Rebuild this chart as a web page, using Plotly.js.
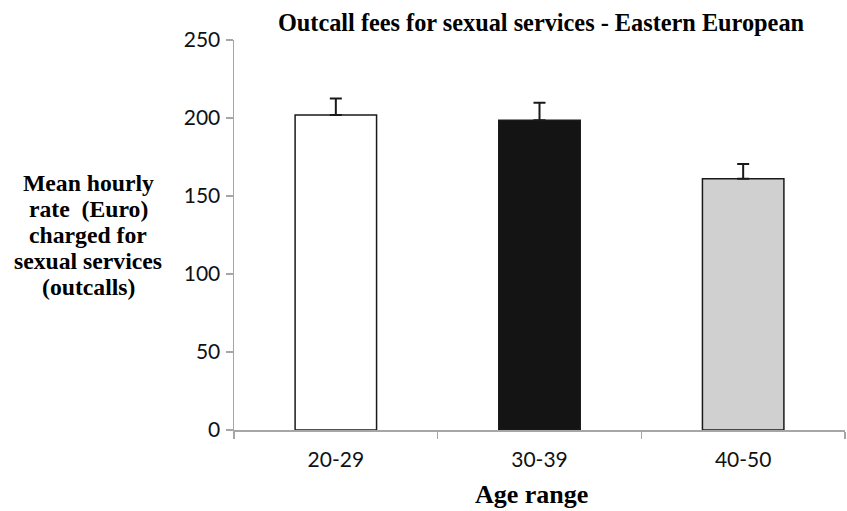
<!DOCTYPE html>
<html><head><meta charset="utf-8">
<script src="https://cdn.plot.ly/plotly-3.0.1.min.js"></script>
<style>body{margin:0;background:#fff}#c{width:847px;height:511px}</style>
</head><body><div id="c"></div>
<script>
const categories = ["20-29", "30-39", "40-50"];
const meanRates = [202, 198.5, 161];
const errorUp = [10.5, 11.3, 9.5];
const barColors = ["#ffffff", "#141414", "#d0d0d0"];
const yTicks = [0, 50, 100, 150, 200, 250];
const yTitleLines = ["Mean hourly", "rate  (Euro)", "charged for", "sexual services", "(outcalls)"];

const trace = {
  type: "bar",
  x: categories,
  y: meanRates,
  marker: {color: barColors, line: {color: "#1a1a1a", width: 1.5}},
  error_y: {type: "data", symmetric: false, array: errorUp, arrayminus: [0,0,0], color: "#1a1a1a", thickness: 2, width: 6},
  hoverinfo: "none"
};

const serif = "Liberation Serif, Times New Roman, serif";
const sans = "Lato, Liberation Sans, Arial, sans-serif";

const H = 511, T = 40, B = 81, plotH = H - T - B;
function paperY(px) { return (H - B - px) / plotH; }

const annotations = yTitleLines.map((t, i) => ({
  text: "<b>" + t.replace(/  /g, "&nbsp; ") + "</b>",
  xref: "paper", yref: "paper", x: (88 - 234) / 611, y: paperY(183 + i * 26),
  xanchor: "center", yanchor: "middle", showarrow: false,
  font: {family: serif, size: 23.7, color: "#000"}
}));
annotations.push({
  text: "<b>Age range</b>", xref: "paper", yref: "paper", x: (531 - 234) / 611, y: paperY(494),
  xanchor: "center", yanchor: "middle", showarrow: false,
  font: {family: serif, size: 26, color: "#000"}
});

const layout = {
  width: 847, height: 511,
  margin: {l: 234, r: 2, t: T, b: B},
  paper_bgcolor: "#fff", plot_bgcolor: "#fff",
  showlegend: false,
  bargap: 0.6,
  title: {text: "<b>Outcall fees for sexual services - Eastern European</b>", font: {family: serif, size: 24.3, color: "#000"}, x: 541/847, xref: "container", y: 1 - 22/511, yref: "container", xanchor: "center", yanchor: "middle"},
  xaxis: {
    type: "category",
    showgrid: false, zeroline: false,
    showline: true, linecolor: "#a6a6a6", linewidth: 1.5,
    ticks: "outside", tickson: "boundaries", ticklen: 7, tickcolor: "#a6a6a6", tickwidth: 1.5,
    tickfont: {family: sans, size: 21, color: "#111"},
    ticklabelstandoff: 10
  },
  yaxis: {
    range: [0, 250], tickvals: yTicks, ticktext: yTicks.map(String),
    showgrid: false, zeroline: false,
    showline: true, linecolor: "#a6a6a6", linewidth: 1.5,
    ticks: "outside", ticklen: 7, tickcolor: "#a6a6a6", tickwidth: 1.5,
    tickfont: {family: sans, size: 21, color: "#111"},
    ticklabelstandoff: 1
  },
  annotations: annotations
};

Plotly.newPlot("c", [trace], layout, {staticPlot: true, displayModeBar: false});
</script>
</body></html>
